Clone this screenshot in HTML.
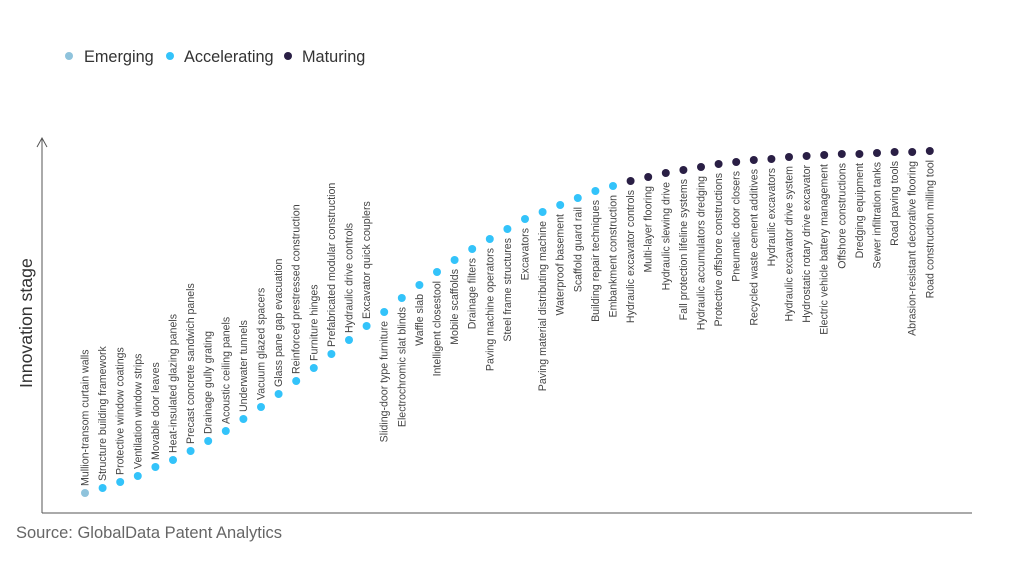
<!DOCTYPE html>
<html><head><meta charset="utf-8"><style>
html,body{margin:0;padding:0;background:#fff;width:1024px;height:576px;overflow:hidden}
svg{display:block;font-family:"Liberation Sans",sans-serif}
.a{fill:#33c3fa}.m{fill:#2a1f45}.e{fill:#8fc3dc}
.t text{font-size:10.6px;fill:#444}
.t .b{text-anchor:end}
</style></head><body>
<svg width="1024" height="576" viewBox="0 0 1024 576">
<g font-size="16.3" fill="#333">
<circle cx="69" cy="56" r="4" class="e"/><text x="84" y="62">Emerging</text>
<circle cx="170" cy="56" r="4" class="a"/><text x="184" y="62">Accelerating</text>
<circle cx="288" cy="56" r="4" class="m"/><text x="302" y="62">Maturing</text>
</g>
<line x1="42" y1="138" x2="42" y2="513" stroke="#555" stroke-width="1"/>
<polyline points="37,147 42,138 47,147" fill="none" stroke="#555" stroke-width="1"/>
<line x1="42" y1="513" x2="972" y2="513" stroke="#555" stroke-width="1"/>
<text transform="translate(32,388) rotate(-90)" font-size="17.7" fill="#333">Innovation stage</text>
<text x="16" y="538" font-size="16.5" fill="#666">Source: GlobalData Patent Analytics</text>
<g class="t">
<circle cx="85" cy="493" r="4" class="e"/><text transform="translate(88.5,486) rotate(-90)">Mullion-transom curtain walls</text>
<circle cx="102.6" cy="488" r="4" class="a"/><text transform="translate(106.1,481) rotate(-90)">Structure building framework</text>
<circle cx="120.2" cy="482" r="4" class="a"/><text transform="translate(123.7,475) rotate(-90)">Protective window coatings</text>
<circle cx="137.8" cy="476" r="4" class="a"/><text transform="translate(141.3,469) rotate(-90)">Ventilation window strips</text>
<circle cx="155.4" cy="467" r="4" class="a"/><text transform="translate(158.9,460) rotate(-90)">Movable door leaves</text>
<circle cx="173" cy="460" r="4" class="a"/><text transform="translate(176.5,453) rotate(-90)">Heat-insulated glazing panels</text>
<circle cx="190.6" cy="451" r="4" class="a"/><text transform="translate(194.1,444) rotate(-90)">Precast concrete sandwich panels</text>
<circle cx="208.2" cy="441" r="4" class="a"/><text transform="translate(211.7,434) rotate(-90)">Drainage gully grating</text>
<circle cx="225.8" cy="431" r="4" class="a"/><text transform="translate(229.3,424) rotate(-90)">Acoustic ceiling panels</text>
<circle cx="243.4" cy="419" r="4" class="a"/><text transform="translate(246.9,412) rotate(-90)">Underwater tunnels</text>
<circle cx="261" cy="407" r="4" class="a"/><text transform="translate(264.5,400) rotate(-90)">Vacuum glazed spacers</text>
<circle cx="278.6" cy="394" r="4" class="a"/><text transform="translate(282.1,387) rotate(-90)">Glass pane gap evacuation</text>
<circle cx="296.2" cy="381" r="4" class="a"/><text transform="translate(299.7,374) rotate(-90)">Reinforced prestressed construction</text>
<circle cx="313.8" cy="368" r="4" class="a"/><text transform="translate(317.3,361) rotate(-90)">Furniture hinges</text>
<circle cx="331.4" cy="354" r="4" class="a"/><text transform="translate(334.9,347) rotate(-90)">Prefabricated modular construction</text>
<circle cx="349" cy="340" r="4" class="a"/><text transform="translate(352.5,333) rotate(-90)">Hydraulic drive controls</text>
<circle cx="366.6" cy="326" r="4" class="a"/><text transform="translate(370.1,319) rotate(-90)">Excavator quick couplers</text>
<circle cx="384.2" cy="312" r="4" class="a"/><text class="b" transform="translate(387.7,321) rotate(-90)">Sliding-door type furniture</text>
<circle cx="401.8" cy="298" r="4" class="a"/><text class="b" transform="translate(405.3,307) rotate(-90)">Electrochromic slat blinds</text>
<circle cx="419.4" cy="285" r="4" class="a"/><text class="b" transform="translate(422.9,294) rotate(-90)">Waffle slab</text>
<circle cx="437" cy="272" r="4" class="a"/><text class="b" transform="translate(440.5,281) rotate(-90)">Intelligent closestool</text>
<circle cx="454.6" cy="260" r="4" class="a"/><text class="b" transform="translate(458.1,269) rotate(-90)">Mobile scaffolds</text>
<circle cx="472.2" cy="249" r="4" class="a"/><text class="b" transform="translate(475.7,258) rotate(-90)">Drainage filters</text>
<circle cx="489.8" cy="239" r="4" class="a"/><text class="b" transform="translate(493.3,248) rotate(-90)">Paving machine operators</text>
<circle cx="507.4" cy="229" r="4" class="a"/><text class="b" transform="translate(510.9,238) rotate(-90)">Steel frame structures</text>
<circle cx="525" cy="219" r="4" class="a"/><text class="b" transform="translate(528.5,228) rotate(-90)">Excavators</text>
<circle cx="542.6" cy="212" r="4" class="a"/><text class="b" transform="translate(546.1,221) rotate(-90)">Paving material distributing machine</text>
<circle cx="560.2" cy="205" r="4" class="a"/><text class="b" transform="translate(563.7,214) rotate(-90)">Waterproof basement</text>
<circle cx="577.8" cy="198" r="4" class="a"/><text class="b" transform="translate(581.3,207) rotate(-90)">Scaffold guard rail</text>
<circle cx="595.4" cy="191" r="4" class="a"/><text class="b" transform="translate(598.9,200) rotate(-90)">Building repair techniques</text>
<circle cx="613" cy="186" r="4" class="a"/><text class="b" transform="translate(616.5,195) rotate(-90)">Embankment construction</text>
<circle cx="630.6" cy="181" r="4" class="m"/><text class="b" transform="translate(634.1,190) rotate(-90)">Hydraulic excavator controls</text>
<circle cx="648.2" cy="177" r="4" class="m"/><text class="b" transform="translate(651.7,186) rotate(-90)">Multi-layer flooring</text>
<circle cx="665.8" cy="173" r="4" class="m"/><text class="b" transform="translate(669.3,182) rotate(-90)">Hydraulic slewing drive</text>
<circle cx="683.4" cy="170" r="4" class="m"/><text class="b" transform="translate(686.9,179) rotate(-90)">Fall protection lifeline systems</text>
<circle cx="701" cy="167" r="4" class="m"/><text class="b" transform="translate(704.5,176) rotate(-90)">Hydraulic accumulators dredging</text>
<circle cx="718.6" cy="164" r="4" class="m"/><text class="b" transform="translate(722.1,173) rotate(-90)">Protective offshore constructions</text>
<circle cx="736.2" cy="162" r="4" class="m"/><text class="b" transform="translate(739.7,171) rotate(-90)">Pneumatic door closers</text>
<circle cx="753.8" cy="160" r="4" class="m"/><text class="b" transform="translate(757.3,169) rotate(-90)">Recycled waste cement additives</text>
<circle cx="771.4" cy="159" r="4" class="m"/><text class="b" transform="translate(774.9,168) rotate(-90)">Hydraulic excavators</text>
<circle cx="789" cy="157" r="4" class="m"/><text class="b" transform="translate(792.5,166) rotate(-90)">Hydraulic excavator drive system</text>
<circle cx="806.6" cy="156" r="4" class="m"/><text class="b" transform="translate(810.1,165) rotate(-90)">Hydrostatic rotary drive excavator</text>
<circle cx="824.2" cy="155" r="4" class="m"/><text class="b" transform="translate(827.7,164) rotate(-90)">Electric vehicle battery management</text>
<circle cx="841.8" cy="154" r="4" class="m"/><text class="b" transform="translate(845.3,163) rotate(-90)">Offshore constructions</text>
<circle cx="859.4" cy="154" r="4" class="m"/><text class="b" transform="translate(862.9,163) rotate(-90)">Dredging equipment</text>
<circle cx="877" cy="153" r="4" class="m"/><text class="b" transform="translate(880.5,162) rotate(-90)">Sewer infiltration tanks</text>
<circle cx="894.6" cy="152" r="4" class="m"/><text class="b" transform="translate(898.1,161) rotate(-90)">Road paving tools</text>
<circle cx="912.2" cy="152" r="4" class="m"/><text class="b" transform="translate(915.7,161) rotate(-90)">Abrasion-resistant decorative flooring</text>
<circle cx="929.8" cy="151" r="4" class="m"/><text class="b" transform="translate(933.3,160) rotate(-90)">Road construction milling tool</text>
</g>
</svg>
</body></html>
